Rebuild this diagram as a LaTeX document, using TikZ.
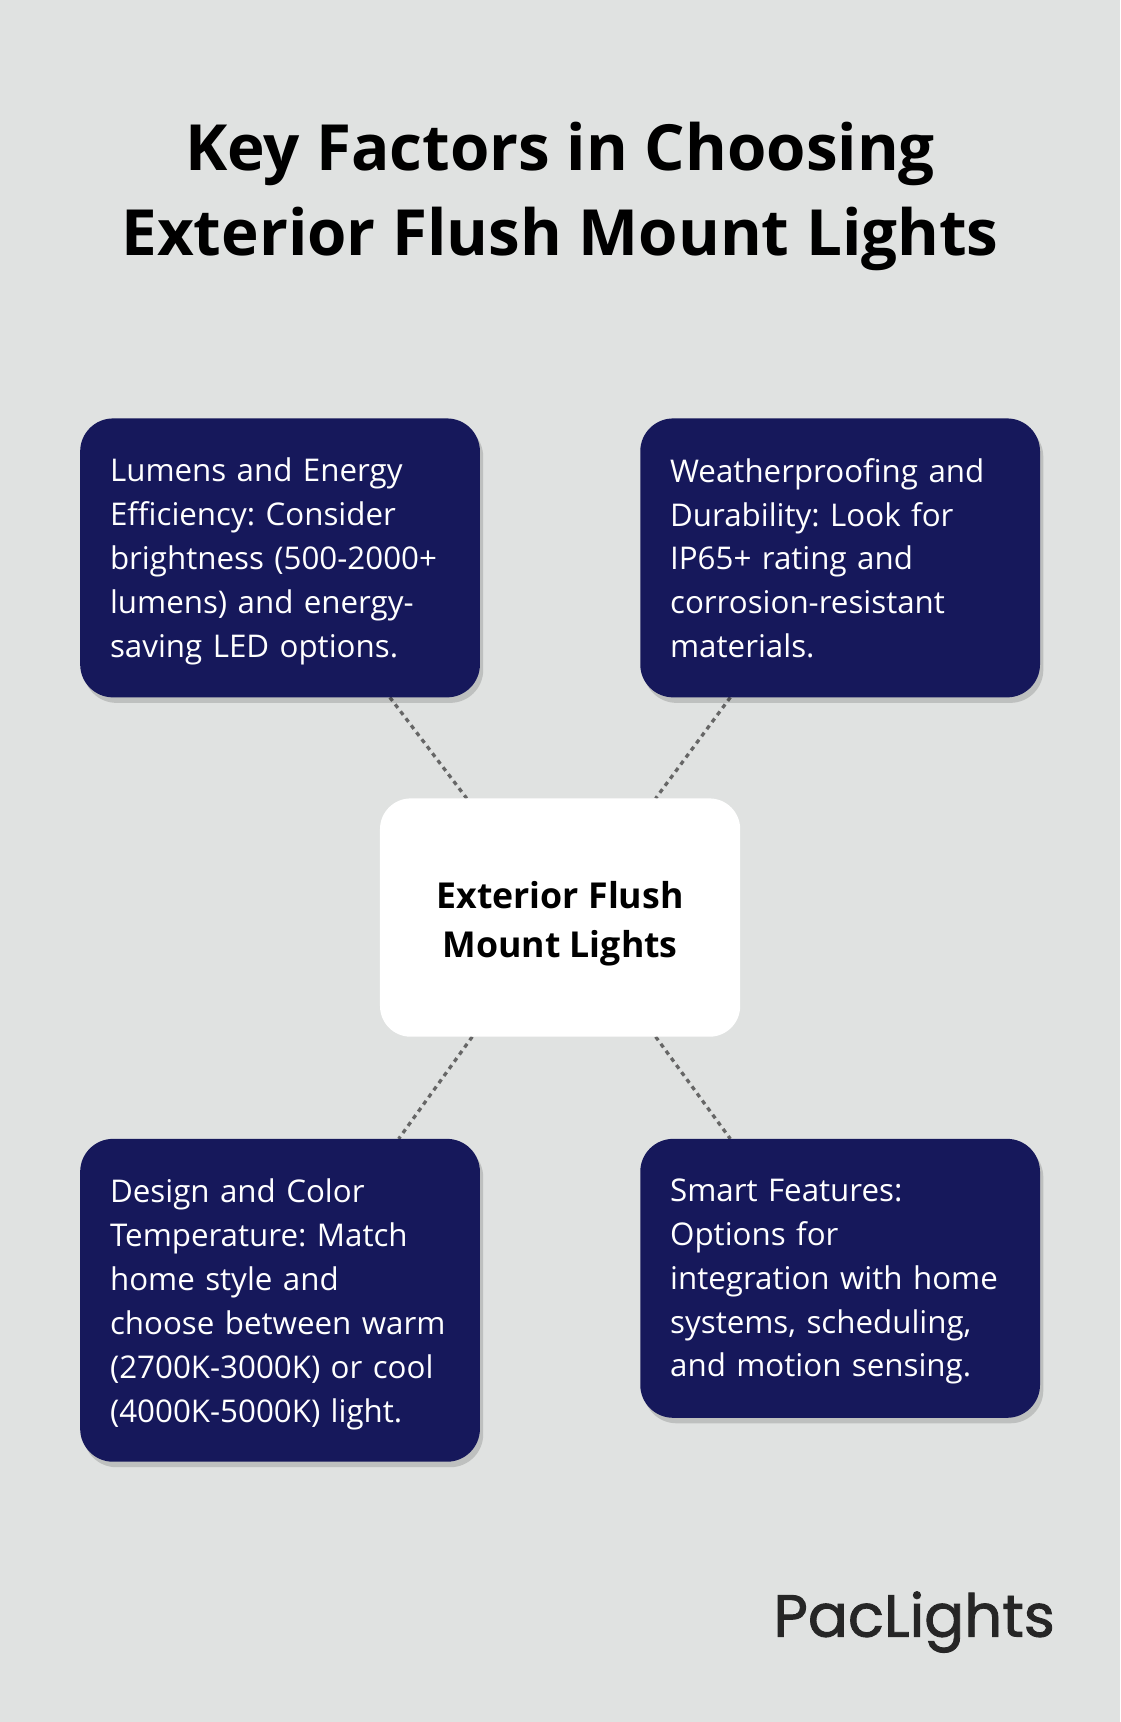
\documentclass[tikz,border=0pt]{standalone}
\usepackage{fontspec}
\setmainfont{Open Sans}
\newfontfamily\logofont[FakeBold=1.5]{Poppins}
\usetikzlibrary{shadows}
\frenchspacing
\definecolor{bg}{HTML}{E0E2E1}
\definecolor{navy}{HTML}{16185B}
\tikzset{
 card/.style={fill=navy,rounded corners=30pt,drop shadow={shadow xshift=3pt,shadow yshift=-5pt,opacity=0.15,fill=black}},
 cardtext/.style={anchor=north west,inner sep=0pt,text width=340pt,align=left,text=white,font=\frenchspacing\fontsize{28.5}{40}\selectfont},
 link/.style={draw=black!60,line width=3pt,dash pattern=on 4pt off 4pt}
}
\begin{document}
\begin{tikzpicture}[x=1pt,y=-1pt]
\fill[bg] (0,0) rectangle (1020,1568);
\useasboundingbox (0,0) rectangle (1020,1568);
\node[font=\bfseries\fontsize{58}{78}\selectfont,align=center] (title) at (510,179) {Key Factors in Choosing\\Exterior Flush Mount Lights};
\coordinate (a1) at (355,635); \coordinate (a2) at (425,727);
\coordinate (b1) at (665,635); \coordinate (b2) at (597,727);
\coordinate (c1) at (430,944); \coordinate (c2) at (363,1037);
\coordinate (d1) at (597,944); \coordinate (d2) at (665,1037);
\draw[link] (a1) -- (a2); \draw[link] (b1) -- (b2);
\draw[link] (c1) -- (c2); \draw[link] (d1) -- (d2);
\path[card] (73,381) rectangle (437,635);
\path[card] (583,381) rectangle (947,635);
\path[card] (73,1037) rectangle (437,1331);
\path[card] (583,1037) rectangle (947,1291);
\path[fill=white,rounded corners=28pt] (346,727) rectangle (674,944);
\node[cardtext] (t1) at (100,417) {Lumens and Energy\\Efficiency: Consider\\brightness (500-2000+\\lumens) and energy-\\saving LED options.};
\node[cardtext] (t2) at (610,417) {Weatherproofing and\\Durability: Look for\\IP65+ rating and\\corrosion-resistant\\materials.};
\node[cardtext] (t3) at (100,1073) {Design and Color\\Temperature: Match\\home style and\\choose between warm\\(2700K-3000K) or cool\\(4000K-5000K) light.};
\node[cardtext] (t4) at (610,1073) {Smart Features:\\Options for\\integration with home\\systems, scheduling,\\and motion sensing.};
\node[font=\bfseries\fontsize{32.5}{44}\selectfont,align=center] (c) at (510,841) {Exterior Flush\\Mount Lights};
\node[font=\logofont\fontsize{54}{54}\selectfont,text=black!85,anchor=east] (logo) at (964,1477) {PacLights};
\end{tikzpicture}
\end{document}
